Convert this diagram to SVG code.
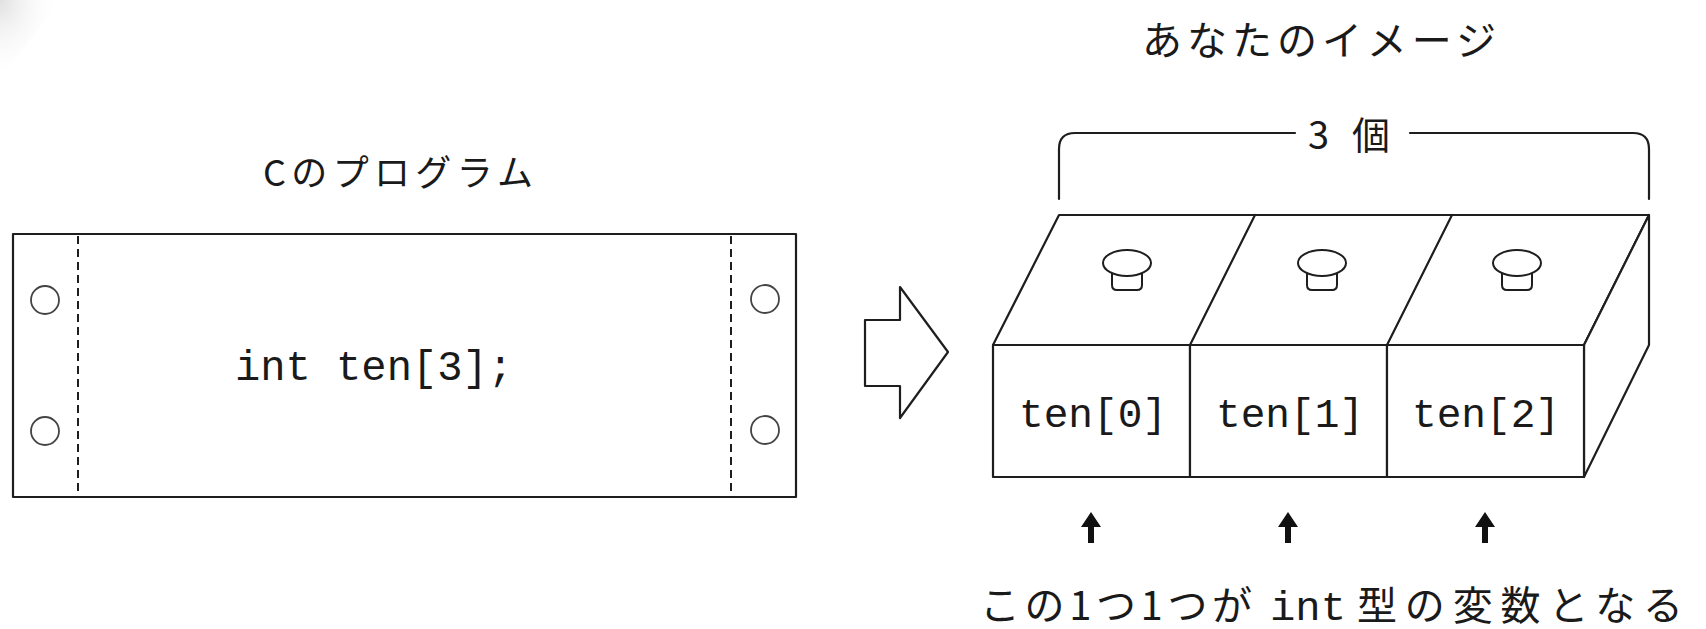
<svg xmlns="http://www.w3.org/2000/svg" width="1706" height="629" viewBox="0 0 1706 629">
  <defs>
    <style>
      .ln { fill: none; stroke: #1e1e1e; stroke-width: 2.2; stroke-linejoin: round; stroke-linecap: round; }
      .face { fill: #ffffff; stroke: #1e1e1e; stroke-width: 2.2; stroke-linejoin: round; }
      .dash { fill: none; stroke: #1e1e1e; stroke-width: 2; stroke-dasharray: 8 5; }
      .hole { fill: #ffffff; stroke: #444444; stroke-width: 1.8; }
      .jp { font-family: "Noto Sans CJK JP", "Noto Sans", sans-serif; fill: #1a1a1a; }
      .mono { font-family: "Liberation Mono", "DejaVu Sans Mono", monospace; fill: #1a1a1a; }
      .knob { fill: #ffffff; stroke: #1e1e1e; stroke-width: 2; }
      .up { fill: #111111; }
    </style>
    <radialGradient id="cornerShade" cx="0" cy="0" r="1">
      <stop offset="0" stop-color="#d8d8d8" stop-opacity="0.8"/>
      <stop offset="1" stop-color="#ffffff" stop-opacity="0"/>
    </radialGradient>
    <!-- a single knob on a lid, centred on 0,0 -->
    <g id="knob">
      <path class="knob" d="M-15,6 V22 Q-15,27 -10,27 H10 Q15,27 15,22 V6"/>
      <ellipse class="knob" cx="0" cy="0" rx="24" ry="13"/>
    </g>
    <path id="upArrow" class="up" d="M0,0 L10,15 L3,15 L3,31 L-3,31 L-3,15 L-10,15 Z"/>
  </defs>

  <rect width="1706" height="629" fill="#ffffff"/>
  <path d="M0,0 H60 L0,80 Z" fill="url(#cornerShade)"/>

  <!-- left: the C source listing on a punched sheet -->
  <g id="program">
    <text class="jp" x="263" y="186" font-size="36" textLength="270" lengthAdjust="spacing">Cのプログラム</text>
    <rect class="face" x="13" y="234" width="783" height="263"/>
    <line class="dash" x1="78" y1="236" x2="78" y2="495"/>
    <line class="dash" x1="731" y1="236" x2="731" y2="495"/>
    <circle class="hole" cx="45" cy="300" r="14"/>
    <circle class="hole" cx="45" cy="431" r="14"/>
    <circle class="hole" cx="765" cy="299" r="14"/>
    <circle class="hole" cx="765" cy="430" r="14"/>
    <text class="mono" x="235" y="380" font-size="42" textLength="278" lengthAdjust="spacingAndGlyphs">int ten[3];</text>
  </g>

  <!-- block arrow from the listing to the picture -->
  <g id="transition">
    <polygon class="face" points="865,320 900,320 900,287 948,352 900,418 900,386 865,386"/>
  </g>

  <!-- right: the three boxes of the array -->
  <g id="image">
    <text class="jp" x="1142" y="55" font-size="40" textLength="354" lengthAdjust="spacing">あなたのイメージ</text>

    <g id="count">
      <path class="ln" d="M1059,199 V149 Q1059,133 1075,133 H1295"/>
      <path class="ln" d="M1410,133 H1633 Q1649,133 1649,149 V199"/>
      <text class="jp" x="1308" y="149" font-size="38" textLength="82" lengthAdjust="spacing">3個</text>
    </g>

    <g id="boxes">
      <polygon class="face" points="993,345 1059,215 1649,215 1584,345"/>
      <polygon class="face" points="1584,345 1649,215 1649,345 1584,477"/>
      <line class="ln" x1="1190" y1="345" x2="1255" y2="215"/>
      <line class="ln" x1="1387" y1="345" x2="1452" y2="215"/>
      <use href="#knob" x="1127" y="263"/>
      <use href="#knob" x="1322" y="263"/>
      <use href="#knob" x="1517" y="263"/>
    </g>

    <g id="ten0">
      <rect class="face" x="993" y="345" width="197" height="132"/>
      <text class="mono" x="1019" y="427" font-size="41" textLength="148" lengthAdjust="spacingAndGlyphs">ten[0]</text>
    </g>
    <g id="ten1">
      <rect class="face" x="1190" y="345" width="197" height="132"/>
      <text class="mono" x="1216" y="427" font-size="41" textLength="148" lengthAdjust="spacingAndGlyphs">ten[1]</text>
    </g>
    <g id="ten2">
      <rect class="face" x="1387" y="345" width="197" height="132"/>
      <text class="mono" x="1412" y="427" font-size="41" textLength="148" lengthAdjust="spacingAndGlyphs">ten[2]</text>
    </g>
  </g>

  <!-- pointers from the caption to each element -->
  <g id="connectors">
    <use href="#upArrow" x="1091" y="512"/>
    <use href="#upArrow" x="1288" y="512"/>
    <use href="#upArrow" x="1485" y="512"/>
  </g>

  <g id="caption">
    <text class="jp" x="980" y="620" font-size="40" textLength="272" lengthAdjust="spacing">この1つ1つが</text>
    <text class="mono" x="1270" y="620" font-size="40" textLength="76" lengthAdjust="spacingAndGlyphs">int</text>
    <text class="jp" x="1357" y="620" font-size="40" textLength="326" lengthAdjust="spacing">型の変数となる</text>
  </g>
</svg>
